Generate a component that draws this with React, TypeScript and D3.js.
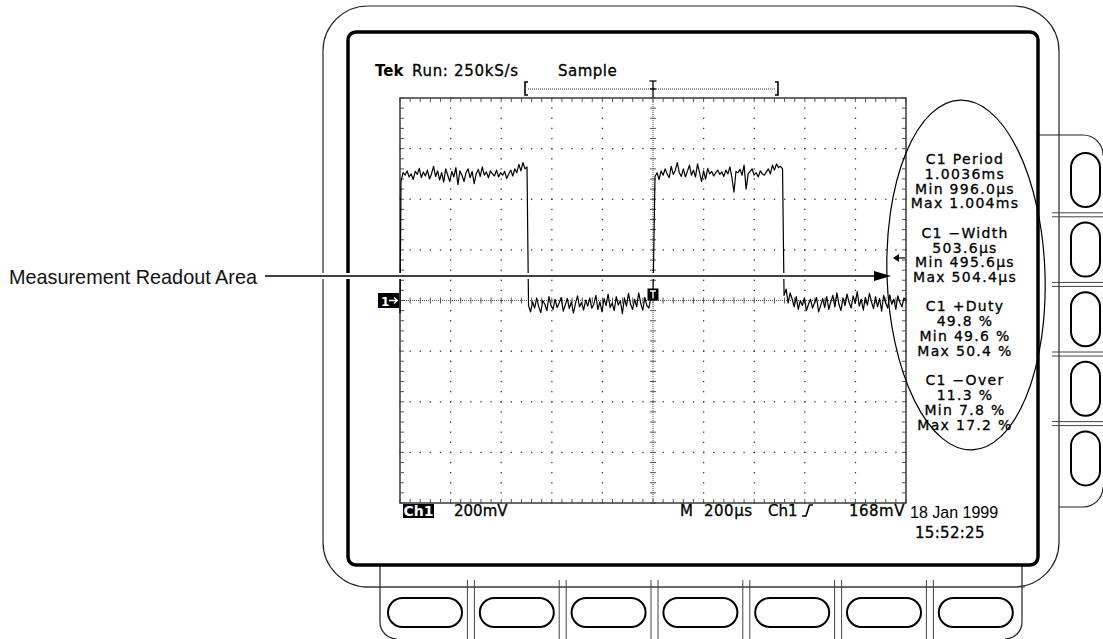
import React from "react";
import * as d3 from "d3";

// ---- data ----
const timeDomainUs = [-1000, 1000]; // 10 div x 200 µs
const voltDomainMv = [-800, 800]; // 8 div x 200 mV
const triggerLevelMv = 168;

const preLow = [-50];
const high1 = [470, 505, 495, 512, 488, 500, 478, 510, 498, 522, 485, 508, 492, 515, 480, 500, 530, 490, 512, 476, 505, 468, 520, 495, 470, 510, 488, 525, 458, 512, 495, 470, 505, 520, 485, 510, 462, 500, 518, 490, 528, 495, 508, 485, 512, 500, 492, 515, 488, 505, 495, 510, 482, 500, 515, 492, 520, 505, 538, 512, 545, 520, 528];
const low1 = [-20, -45, -5, -30, 10, -25, -48, 0, -15, -40, 15, -20, -35, 5, -28, -10, 12, -42, -18, 8, -32, -5, -50, -12, 18, -25, -8, -38, 2, -22, 10, -30, -15, 20, -35, -5, -45, 8, -20, 25, -28, -10, -40, 15, -18, 0, -52, 10, -22, 28, -15, -35, 5, -25, 30, -12, -38, 12, -20, -30, 15, 22];
const high2 = [490, 505, 478, 512, 495, 520, 500, 485, 530, 498, 515, 545, 505, 490, 520, 488, 510, 535, 495, 515, 488, 540, 505, 470, 512, 480, 522, 500, 510, 492, 505, 515, 498, 508, 490, 515, 500, 528, 485, 428, 510, 505, 518, 495, 535, 440, 500, 510, 520, 495, 505, 488, 512, 500, 495, 508, 520, 500, 535, 515, 540, 525, 530, 520];
const low2 = [20, 45, -10, 30, 5, -25, 15, -35, 0, -20, 10, -40, -15, 5, -30, -10, 12, -45, -20, 8, -28, 15, -35, -5, 20, -25, 30, -15, -40, 10, -20, 25, -8, -30, 18, -12, 35, -22, 5, -38, 12, -18, 28, -5, -32, 15, -25, 8, -42, 20, -10, -30, 22, -15, 5, -35, 18, -8, -25, 10, 0];
const segmentTimes = [
  [-1000, -1000],
  [-996, -498],
  [-492, 0],
  [8, 512],
  [518, 1000],
];
const segmentValues = [preLow, high1, low1, high2, low2];

const readouts = [
  ["C1 Period", "1.0036ms", "Min 996.0µs", "Max 1.004ms"],
  ["C1 −Width", "503.6µs", "Min 495.6µs", "Max 504.4µs"],
  ["C1 +Duty", "49.8 %", "Min 49.6 %", "Max 50.4 %"],
  ["C1 −Over", "11.3 %", "Min 7.8 %", "Max 17.2 %"],
];

const W = 1103;
const H = 639;
const SCOPE_FONT = "'DejaVu Sans', sans-serif";

export default function App() {
  const x = d3.scaleLinear().domain(timeDomainUs).range([400, 906]);
  const y = d3.scaleLinear().domain(voltDomainMv).range([503, 98]);

  const trace: { t: number; v: number }[] = [];
  segmentValues.forEach((vals, si) => {
    const [t0, t1] = segmentTimes[si];
    vals.forEach((v, i) => {
      const t = vals.length === 1 ? t0 : t0 + ((t1 - t0) * i) / (vals.length - 1);
      trace.push({ t, v });
    });
  });
  const line = d3
    .line<{ t: number; v: number }>()
    .x((d) => x(d.t))
    .y((d) => y(d.v));

  const xMajor = d3.range(-1000, 1000.1, 200);
  const yMajor = d3.range(-800, 800.1, 200);
  const xMinor = d3.range(-1000, 1000.1, 40);
  const yMinor = d3.range(-800, 800.1, 40);

  const dots: JSX.Element[] = [];
  yMajor.slice(1, -1).forEach((yv) => {
    if (yv === 0) return;
    xMinor.forEach((xv, i) => {
      dots.push(<rect key={`h${yv}_${i}`} x={x(xv) - 0.6} y={y(yv) - 0.6} width={1.3} height={1.3} fill="#333" />);
    });
  });
  xMajor.slice(1, -1).forEach((xv) => {
    if (xv === 0) return;
    yMinor.forEach((yv, i) => {
      dots.push(<rect key={`v${xv}_${i}`} x={x(xv) - 0.6} y={y(yv) - 0.6} width={1.3} height={1.3} fill="#333" />);
    });
  });

  const ticks: JSX.Element[] = [];
  xMinor.forEach((xv, i) => {
    const px = x(xv);
    ticks.push(<line key={`tt${i}`} x1={px} x2={px} y1={98} y2={102} stroke="#555" strokeWidth={1} />);
    ticks.push(<line key={`tb${i}`} x1={px} x2={px} y1={503} y2={499} stroke="#555" strokeWidth={1} />);
    ticks.push(<line key={`tc${i}`} x1={px} x2={px} y1={y(0) - 3} y2={y(0) + 3} stroke="#555" strokeWidth={1} />);
  });
  yMinor.forEach((yv, i) => {
    const py = y(yv);
    ticks.push(<line key={`tl${i}`} x1={400} x2={404} y1={py} y2={py} stroke="#555" strokeWidth={1} />);
    ticks.push(<line key={`tr${i}`} x1={906} x2={902} y1={py} y2={py} stroke="#555" strokeWidth={1} />);
    ticks.push(<line key={`tcv${i}`} x1={x(0) - 3} x2={x(0) + 3} y1={py} y2={py} stroke="#555" strokeWidth={1} />);
  });

  const bottomPills = d3.range(7).map((i) => 425 + i * 91.8);
  const rightPills = d3.range(5).map((i) => 180 + i * 69.6);

  const x0 = x(0);
  const yg = y(0);
  const yTrig = y(triggerLevelMv);

  return (
    <svg width={W} height={H} style={{ position: "absolute", left: 0, top: 0, background: "#fff" }}>
      {/* outer bezel */}
      <rect x={323} y={6} width={736} height={581} rx={45} ry={45} fill="none" stroke="#222" strokeWidth={1.2} />
      {/* right button panel */}
      <path d="M1038,135 H1083 A20,20 0 0 1 1103,155" fill="none" stroke="#222" strokeWidth={1.2} />
      <path d="M1059,507 H1083 A20,20 0 0 0 1103,487" fill="none" stroke="#222" strokeWidth={1.2} />
      {rightPills.slice(0, -1).map((c, i) => {
        const m = c + 34.8;
        return (
          <g key={`rs${i}`}>
            <line x1={1052} x2={1103} y1={m - 2} y2={m - 2} stroke="#444" strokeWidth={1} />
            <line x1={1052} x2={1103} y1={m + 2} y2={m + 2} stroke="#444" strokeWidth={1} />
          </g>
        );
      })}
      {rightPills.map((c, i) => (
        <rect key={`rp${i}`} x={1071} y={c - 27} width={29} height={54} rx={14.5} ry={14.5} fill="none" stroke="#000" strokeWidth={2} />
      ))}
      {/* bottom button panel */}
      <line x1={365} x2={1025} y1={587} y2={587} stroke="#444" strokeWidth={1} />
      <path d="M380,566 V622 A17,17 0 0 0 397,639" fill="none" stroke="#222" strokeWidth={1.2} />
      <path d="M1022,566 V622 A17,17 0 0 1 1005,639" fill="none" stroke="#222" strokeWidth={1.2} />
      {bottomPills.slice(0, -1).map((c, i) => {
        const m = c + 45.9;
        return (
          <g key={`bs${i}`}>
            <line x1={m - 3.5} x2={m - 3.5} y1={580} y2={639} stroke="#444" strokeWidth={1} />
            <line x1={m + 3.5} x2={m + 3.5} y1={580} y2={639} stroke="#444" strokeWidth={1} />
          </g>
        );
      })}
      {bottomPills.map((c, i) => (
        <rect key={`bp${i}`} x={c - 37} y={598} width={74} height={29} rx={14.5} ry={14.5} fill="none" stroke="#000" strokeWidth={2} />
      ))}
      {/* screen border */}
      <rect x={348} y={32} width={690} height={533} rx={8} ry={8} fill="none" stroke="#000" strokeWidth={3.5} />

      {/* header */}
      <text x={375} y={76} fontFamily={SCOPE_FONT} fontSize={15} fontWeight="bold">Tek</text>
      <text x={412} y={76} fontFamily={SCOPE_FONT} fontSize={15} letterSpacing={0.7} stroke="#000" strokeWidth={0.3}>Run: 250kS/s</text>
      <text x={558} y={76} fontFamily={SCOPE_FONT} fontSize={15} letterSpacing={0.5} stroke="#000" strokeWidth={0.3}>Sample</text>
      {/* record view bracket */}
      <path d="M528,82 H525 V95 H528" fill="none" stroke="#000" strokeWidth={1.6} />
      <path d="M775,82 H778 V95 H775" fill="none" stroke="#000" strokeWidth={1.6} />
      <line x1={528} x2={775} y1={89} y2={89} stroke="#333" strokeWidth={1} strokeDasharray="1,1" />
      <line x1={x0} x2={x0} y1={81} y2={97} stroke="#000" strokeWidth={1.3} />
      <line x1={x0 - 3.5} x2={x0 + 3.5} y1={81} y2={81} stroke="#000" strokeWidth={1.3} />
      <line x1={x0 - 3} x2={x0 + 3} y1={89} y2={89} stroke="#000" strokeWidth={1.3} />

      {/* graticule */}
      {dots}
      <line x1={400} x2={906} y1={yg} y2={yg} stroke="#555" strokeWidth={1} strokeDasharray="1,1" />
      <line x1={x0} x2={x0} y1={98} y2={503} stroke="#555" strokeWidth={1} strokeDasharray="1,1" />
      {ticks}
      <rect x={400} y={98} width={506} height={405} fill="none" stroke="#444" strokeWidth={1.6} />

      {/* waveform */}
      <path d={line(trace) || ""} fill="none" stroke="#000" strokeWidth={1.2} strokeLinejoin="round" />

      {/* ground marker 1-> */}
      <rect x={378} y={yg - 7.5} width={21} height={15} fill="#000" />
      <text x={381} y={yg + 5} fontFamily={SCOPE_FONT} fontSize={12} fontWeight="bold" fill="#fff">1</text>
      <path d={`M389,${yg} H397 M394,${yg - 3} L397.5,${yg} L394,${yg + 3}`} fill="none" stroke="#fff" strokeWidth={1.3} />
      {/* trigger marker T */}
      <rect x={x0 - 5.5} y={yg - 12} width={11} height={12} fill="#000" />
      <path d={`M${x0 - 3},${yg - 9.5} H${x0 + 3} M${x0},${yg - 9.5} V${yg - 2}`} stroke="#fff" strokeWidth={1.4} />
      {/* trigger level arrow */}
      <path d={`M894,${yTrig} H905`} stroke="#000" strokeWidth={1.2} />
      <path d={`M893,${yTrig} L899,${yTrig - 4} L899,${yTrig + 4} Z`} fill="#000" />

      {/* callout */}
      <line x1={262} x2={876} y1={276} y2={276} stroke="#fff" strokeWidth={6} />
      <line x1={265} x2={878} y1={276} y2={276} stroke="#000" strokeWidth={1.6} />
      <path d="M891,276 L874,271 L874,281 Z" fill="#000" />
      <text x={9} y={284} fontFamily="'Liberation Sans Narrow', 'Liberation Sans', Arial, sans-serif" fontSize={21} textLength={248} lengthAdjust="spacingAndGlyphs" fill="#111">Measurement Readout Area</text>

      {/* readout ellipse */}
      <ellipse cx={966} cy={275} rx={79} ry={175} transform="rotate(-2 966 275)" fill="none" stroke="#000" strokeWidth={1.2} />
      {readouts.map((grp, g) =>
        grp.map((s, i) => (
          <text key={`r${g}_${i}`} x={965} y={164 + g * 73.7 + i * 14.8} textAnchor="middle" fontFamily={SCOPE_FONT} fontSize={14} letterSpacing={1.3} stroke="#000" strokeWidth={0.3}>
            {s}
          </text>
        ))
      )}

      {/* bottom readouts */}
      <rect x={403} y={504} width={31} height={14} fill="#000" />
      <text x={418.5} y={516} textAnchor="middle" fontFamily={SCOPE_FONT} fontSize={14} fontWeight="bold" fill="#fff">Ch1</text>
      <text x={454} y={516} fontFamily={SCOPE_FONT} fontSize={15} stroke="#000" strokeWidth={0.3}>200mV</text>
      <text x={680} y={516} fontFamily={SCOPE_FONT} fontSize={15} stroke="#000" strokeWidth={0.3}>M</text>
      <text x={704} y={516} fontFamily={SCOPE_FONT} fontSize={15} letterSpacing={0.5} stroke="#000" strokeWidth={0.3}>200µs</text>
      <text x={768} y={516} fontFamily={SCOPE_FONT} fontSize={15} stroke="#000" strokeWidth={0.3}>Ch1</text>
      <path d="M802,516 H806 L809.5,505 H813" fill="none" stroke="#000" strokeWidth={1.6} />
      <text x={905} y={516} textAnchor="end" fontFamily={SCOPE_FONT} fontSize={15} letterSpacing={0.5} stroke="#000" strokeWidth={0.3}>168mV</text>
      <text x={910} y={518} fontFamily="'Liberation Sans', Arial, sans-serif" fontSize={16}>18 Jan 1999</text>
      <text x={915} y={538} fontFamily={SCOPE_FONT} fontSize={15} letterSpacing={0.3} stroke="#000" strokeWidth={0.3}>15:52:25</text>
    </svg>
  );
}
